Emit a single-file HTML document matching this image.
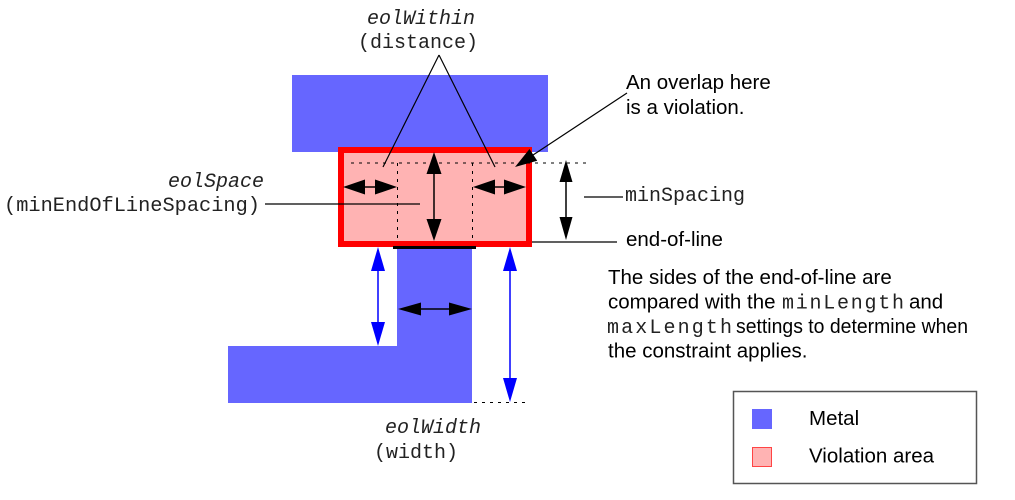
<!DOCTYPE html>
<html><head><meta charset="utf-8"><style>
html,body{margin:0;padding:0;background:#fff;}
svg{display:block;}
.mono{font-family:"Liberation Mono",monospace;font-size:20px;fill:#222;}
.it{font-style:italic;}
.sans{font-family:"Liberation Sans",sans-serif;font-size:20.5px;fill:#000;}
</style></head><body>
<svg width="1015" height="500" viewBox="0 0 1015 500" xmlns="http://www.w3.org/2000/svg">
<!-- metal shapes -->
<rect x="292" y="75" width="256" height="77" fill="#6666ff"/>
<rect x="397" y="246" width="75" height="157" fill="#6666ff"/>
<rect x="228" y="346" width="244" height="57" fill="#6666ff"/>
<!-- violation area -->
<rect x="341" y="150" width="188" height="94" fill="#ffb3b3" stroke="#ff0000" stroke-width="6"/>
<rect x="393" y="246" width="83" height="3" fill="#000"/>
<!-- dotted lines -->
<g stroke="#000" stroke-width="1" stroke-dasharray="3 5" fill="none">
<line x1="351" y1="163" x2="586" y2="163"/>
<line x1="397.5" y1="163" x2="397.5" y2="241"/>
<line x1="472.5" y1="163" x2="472.5" y2="241"/>
<line x1="474" y1="402.5" x2="530" y2="402.5"/>
</g>
<!-- leader lines -->
<g stroke="#000" stroke-width="1.2" fill="none">
<line x1="439" y1="55" x2="383" y2="167"/>
<line x1="439" y1="55" x2="495" y2="167"/>
<line x1="265" y1="204" x2="420" y2="204"/>
<line x1="584" y1="197" x2="623" y2="197"/>
<line x1="532" y1="242" x2="617" y2="242"/>
<line x1="627" y1="93" x2="530" y2="157"/>
</g>
<!-- black arrows -->
<g stroke="#000" stroke-width="1.5">
<line x1="360" y1="187" x2="380" y2="187"/>
<line x1="490" y1="187" x2="509" y2="187"/>
<line x1="434" y1="170" x2="434" y2="223"/>
<line x1="566" y1="178" x2="566" y2="222"/>
<line x1="417" y1="309" x2="452" y2="309"/>
</g>
<g fill="#000">
<polygon points="343,187 365,179.5 365,194.5"/>
<polygon points="397,187 375,179.5 375,194.5"/>
<polygon points="473,187 495,179.5 495,194.5"/>
<polygon points="526,187 504,179.5 504,194.5"/>
<polygon points="434,152 426.5,174 441.5,174"/>
<polygon points="434,241 426.5,219 441.5,219"/>
<polygon points="566,160 559.5,182 572.5,182"/>
<polygon points="566,240 559.5,217 572.5,217"/>
<polygon points="398,309 421,302.5 421,315.5"/>
<polygon points="472,309 449,302.5 449,315.5"/>
<polygon points="515,167 537.2,160.7 529.5,149"/>
</g>
<!-- blue arrows -->
<g stroke="#0000ff" stroke-width="1.5">
<line x1="378" y1="268" x2="378" y2="325"/>
<line x1="510" y1="268" x2="510" y2="381"/>
</g>
<g fill="#0000ff">
<polygon points="378,247 371,271 385,271"/>
<polygon points="378,346 371,322 385,322"/>
<polygon points="510,247 503,271 517,271"/>
<polygon points="510,402 503,378 517,378"/>
</g>
<!-- texts -->
<text class="mono it" x="421" y="24" text-anchor="middle">eolWithin</text>
<text class="mono" x="418" y="48" text-anchor="middle">(distance)</text>
<text class="mono it" x="264" y="187" text-anchor="end">eolSpace</text>
<text class="mono" x="4" y="211" textLength="256" lengthAdjust="spacingAndGlyphs">(minEndOfLineSpacing)</text>
<text class="mono it" x="433" y="433" text-anchor="middle">eolWidth</text>
<text class="mono" x="416" y="458" text-anchor="middle">(width)</text>
<text class="mono" x="625" y="201">minSpacing</text>
<text class="sans" x="626" y="89">An overlap here</text>
<text class="sans" x="626" y="114">is a violation.</text>
<text class="sans" x="626" y="246">end-of-line</text>
<text class="sans" x="608" y="284">The sides of the end-of-line are</text>
<text class="sans" x="608" y="308.5">compared with the</text>
<text class="mono" x="782" y="308.5" textLength="122" lengthAdjust="spacing">minLength</text>
<text class="sans" x="909" y="308.5">and</text>
<text class="mono" x="607" y="333" textLength="125" lengthAdjust="spacing">maxLength</text>
<text class="sans" x="736" y="333" textLength="232" lengthAdjust="spacingAndGlyphs">settings to determine when</text>
<text class="sans" x="608" y="357.5">the constraint applies.</text>
<!-- legend -->
<rect x="733.5" y="391.5" width="243" height="92" fill="#fff" stroke="#555" stroke-width="1.5"/>
<rect x="752" y="409" width="20" height="20" fill="#6666ff"/>
<rect x="752.5" y="447.5" width="19" height="19" fill="#ffb3b3" stroke="#ff4444" stroke-width="1"/>
<text class="sans" x="809" y="425">Metal</text>
<text class="sans" x="809" y="462.5">Violation area</text>
</svg>
</body></html>
